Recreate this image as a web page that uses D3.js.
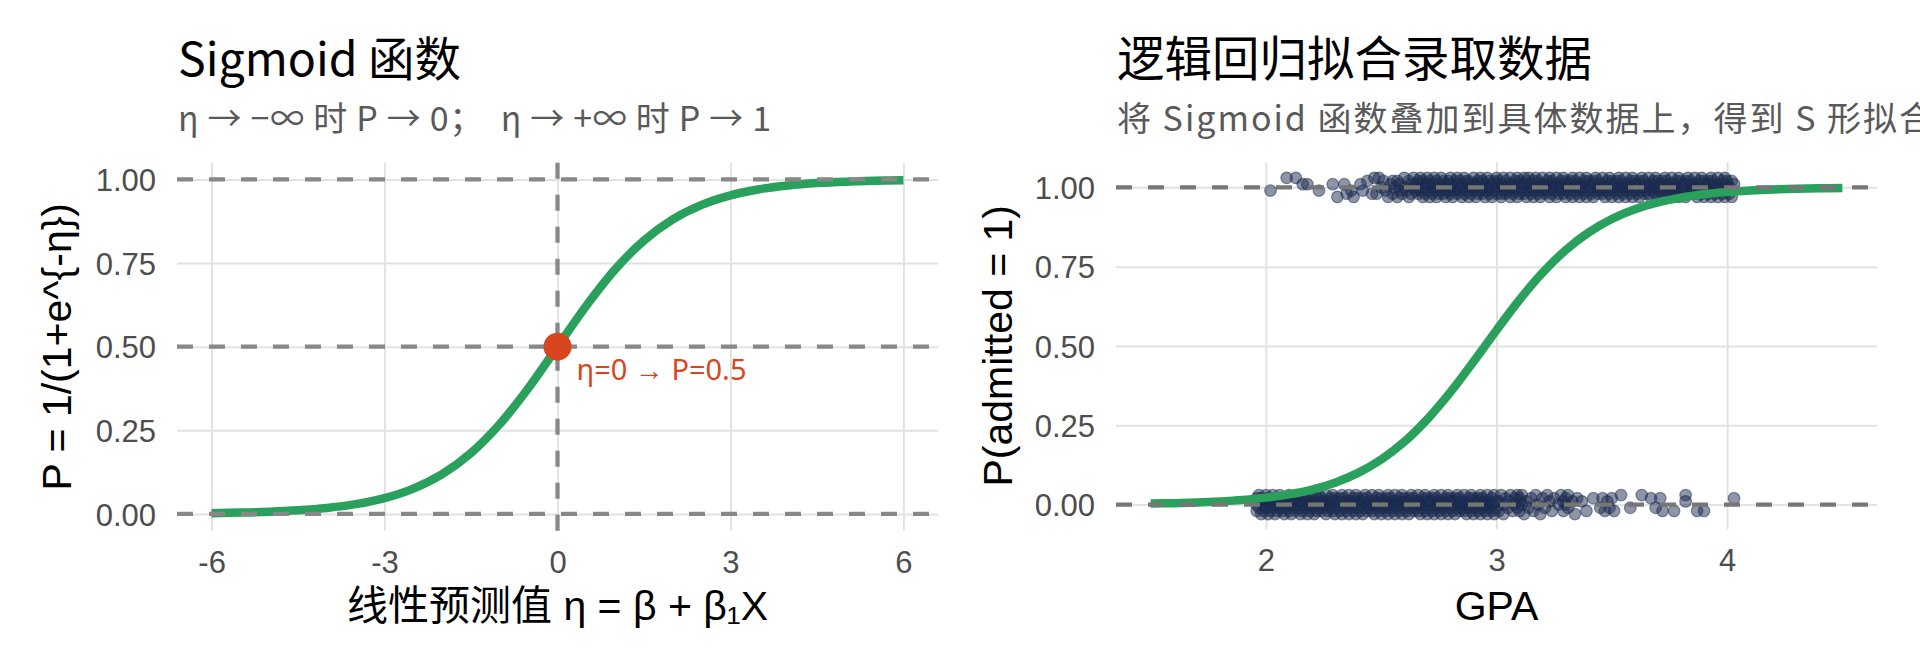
<!DOCTYPE html>
<html>
<head>
<meta charset="utf-8">
<script src="https://cdn.jsdelivr.net/npm/d3@7"></script>
<style>
  body { margin: 0; background: #fff; }
  svg text { font-family: 'Liberation Sans', 'Noto Sans CJK SC', sans-serif; white-space: pre; }
</style>
</head>
<body>
<script>
// ---- chart values ----
const etaTicks = [-6, -3, 0, 3, 6]
const probTicks = [0, 0.25, 0.5, 0.75, 1]
const gpaTicks = [2, 3, 4]
const refProbs = [0, 0.5, 1]      // horizontal dashed lines, left panel
const refEta = [0]                 // vertical dashed line, left panel
const refAdmit = [0, 1]            // horizontal dashed lines, right panel
const midPoint = [[0, 0.5]]

// sigmoid curve: [eta, P]
const sigmoidCurve = [
  [-6, 0.0025], [-5.5, 0.0041], [-5, 0.0067], [-4.5, 0.011], [-4, 0.018], [-3.5, 0.0293],
  [-3, 0.0474], [-2.5, 0.0759], [-2, 0.1192], [-1.5, 0.1824], [-1, 0.2689], [-0.5, 0.3775],
  [0, 0.5], [0.5, 0.6225], [1, 0.7311], [1.5, 0.8176], [2, 0.8808], [2.5, 0.9241],
  [3, 0.9526], [3.5, 0.9707], [4, 0.982], [4.5, 0.989], [5, 0.9933], [5.5, 0.9959], [6, 0.9975]
]

// fitted logistic curve of the right panel: [GPA, P]
const admissionFit = [
  [1.5, 0.003], [1.6, 0.0045], [1.7, 0.0067], [1.8, 0.01], [1.9, 0.0148], [2.0, 0.0219],
  [2.1, 0.0323], [2.2, 0.0474], [2.3, 0.0691], [2.4, 0.0998], [2.5, 0.1419], [2.6, 0.1978],
  [2.7, 0.2689], [2.8, 0.3543], [2.9, 0.4502], [3.0, 0.5498], [3.1, 0.6457], [3.2, 0.7311],
  [3.3, 0.8022], [3.4, 0.8581], [3.5, 0.9002], [3.6, 0.9309], [3.7, 0.9526], [3.8, 0.9677],
  [3.9, 0.9781], [4.0, 0.9852], [4.1, 0.99], [4.2, 0.9933], [4.3, 0.9955], [4.4, 0.997], [4.5, 0.998]
]

// admitted students, [GPA, jittered P]
const admitted = [
  [2.02,.99],[2.09,1.03],[2.13,1.03],[2.16,1.01],[2.18,1.01],[2.23,.99],[2.29,1.01],[2.31,.97],[2.34,1.01],[2.35,.98],
  [2.37,.99],[2.38,.97],[2.41,1.01],[2.42,.99],[2.44,1.02],[2.46,.98],[2.47,1.03],[2.48,.98],[2.49,1.03],[2.5,1],
  [2.51,1.02],[2.52,.99],[2.53,.97],[2.54,1.01],[2.55,1.02],[2.55,.98],[2.56,1],[2.57,.97],[2.57,1.02],[2.58,.99],
  [2.58,1.01],[2.59,.98],[2.6,1.03],[2.6,1],[2.61,.99],[2.62,1.02],[2.62,.97],[2.63,1.01],[2.63,.98],[2.64,1],
  [2.64,1.03],[2.65,.99],[2.65,1.01],
  [2.66,1.02],[2.66,.98],[2.66,1],[2.67,1.03],[2.67,.99],[2.68,1.01],[2.68,.97],[2.68,1.02],[2.69,1],[2.69,.98],[2.7,1.01],[2.7,1.03],[2.7,.99],
  [2.71,.97],[2.71,1.02],[2.72,1],[2.72,1.01],[2.72,.98],[2.73,.99],[2.73,1.03],[2.74,1],[2.74,.97],[2.74,1.02],[2.75,1.01],[2.75,.98],
  [2.76,.99],[2.76,1.03],[2.76,1],[2.77,.98],[2.77,1.02],[2.78,1.01],[2.78,.97],[2.78,1],[2.79,1.02],[2.79,.99],[2.8,1.03],[2.8,.98],[2.8,1.01],
  [2.81,1],[2.81,.97],[2.82,1.02],[2.82,.99],[2.82,1.01],[2.83,.98],[2.83,1.03],[2.84,1],[2.84,.99],[2.84,1.02],[2.85,.97],[2.85,1.01],
  [2.86,1.03],[2.86,.98],[2.86,1],[2.87,1.02],[2.87,.99],[2.88,1.01],[2.88,.97],[2.88,1.02],[2.89,1],[2.89,.98],[2.9,1.03],[2.9,.99],[2.9,1.01],
  [2.91,1],[2.91,.97],[2.92,1.02],[2.92,.98],[2.92,1.01],[2.93,.99],[2.93,1.03],[2.94,1],[2.94,.98],[2.94,1.02],[2.95,.97],[2.95,1.01],
  [2.96,1.03],[2.96,.99],[2.96,1],[2.97,1.02],[2.97,.98],[2.98,1.01],[2.98,.97],[2.98,1],[2.99,1.02],[2.99,.99],[3,1.03],[3,.98],[3,1.01],
  [3.01,1],[3.01,1.02],[3.02,.98],[3.02,.97],[3.02,1.01],[3.03,1.03],[3.03,.99],[3.04,1],[3.04,1.02],[3.04,.98],[3.05,1.01],[3.05,.99],
  [3.06,.97],[3.06,1.03],[3.06,1],[3.07,1.01],[3.07,.98],[3.08,1.02],[3.08,.99],[3.08,1],[3.09,1.03],[3.09,.97],[3.1,1.01],[3.1,.98],[3.1,1.02],
  [3.11,.99],[3.11,1],[3.12,1.03],[3.12,.98],[3.12,1.01],[3.13,.97],[3.13,1.02],[3.14,1],[3.14,.99],[3.14,1.03],[3.15,.98],[3.15,1.01],
  [3.16,1.02],[3.16,.97],[3.16,1],[3.17,.99],[3.17,1.03],[3.18,1.01],[3.18,.98],[3.18,1.02],[3.19,1],[3.19,.97],[3.2,1.01],[3.2,.99],[3.2,1.03],
  [3.21,.98],[3.21,1],[3.22,1.02],[3.22,.99],[3.22,1.01],[3.23,.97],[3.23,1.03],[3.24,1],[3.24,.98],[3.24,1.02],[3.25,1.01],[3.25,.99],
  [3.26,1.03],[3.26,.97],[3.26,1],[3.27,1.01],[3.27,.98],[3.28,1.02],[3.28,.99],[3.28,1],[3.29,1.03],[3.29,.98],[3.3,1.01],[3.3,.97],[3.3,1.02],
  [3.31,1],[3.31,.99],[3.32,1.02],[3.32,.98],[3.32,1.01],[3.33,1.03],[3.33,.97],[3.34,1],[3.34,1.02],[3.34,.99],[3.35,.98],[3.35,1.01],
  [3.36,.97],[3.36,1.03],[3.36,1],[3.37,1.01],[3.37,.99],[3.38,1.02],[3.38,.98],[3.38,1],[3.39,1.03],[3.39,.97],[3.4,1.01],[3.4,.99],[3.4,1.02],
  [3.41,.98],[3.41,1],[3.42,1.02],[3.42,.97],[3.42,1.01],[3.43,.99],[3.43,1.03],[3.44,1],[3.44,.98],[3.44,1.02],[3.45,1.01],[3.45,.99],
  [3.46,1.03],[3.46,.98],[3.46,1],[3.47,1.01],[3.47,.97],[3.48,1.02],[3.48,.99],[3.48,1],[3.49,1.03],[3.49,.98],[3.5,1.01],[3.5,.97],[3.5,1.02],
  [3.51,1],[3.51,.99],[3.52,1.02],[3.52,.98],[3.52,1.01],[3.53,1.03],[3.53,.97],[3.54,1],[3.54,1.02],[3.54,.99],[3.55,.98],[3.55,1.01],
  [3.56,.97],[3.56,1.03],[3.56,1],[3.57,1.01],[3.57,.99],[3.58,1.02],[3.58,.98],[3.58,1],[3.59,1.03],[3.59,.97],[3.6,1.01],[3.6,.99],[3.6,1.02],
  [3.61,.98],[3.61,1],[3.62,1.02],[3.62,.97],[3.62,1.01],[3.63,.99],[3.63,1.03],[3.64,1],[3.64,.98],[3.64,1.02],[3.65,1.01],[3.65,.99],
  [3.66,1.03],[3.66,.98],[3.66,1],[3.67,1.01],[3.67,.97],[3.68,1.02],[3.68,.99],[3.68,1],[3.69,1.03],[3.69,.98],[3.7,1.01],[3.7,.97],[3.7,1.02],
  [3.71,1],[3.71,.99],[3.72,1.02],[3.72,.98],[3.72,1.01],[3.73,1.03],[3.73,.97],[3.74,1],[3.74,1.02],[3.74,.99],[3.75,.98],[3.75,1.01],
  [3.76,.97],[3.76,1.03],[3.76,1],[3.77,1.01],[3.77,.99],[3.78,1.02],[3.78,.98],[3.78,1],[3.79,1.03],[3.79,.97],[3.8,1.01],[3.8,.99],[3.8,1.02],
  [3.81,.98],[3.81,1],[3.82,1.02],[3.82,.97],[3.82,1.01],[3.83,.99],[3.83,1.03],[3.84,1],[3.84,.98],[3.84,1.02],[3.85,1.01],[3.85,.99],
  [3.86,1.03],[3.86,.98],[3.86,1],[3.87,1.01],[3.87,.97],[3.88,1.02],[3.88,.99],[3.88,1],[3.89,1.03],[3.89,.98],[3.9,1.01],[3.9,.97],[3.9,1.02],
  [3.91,1],[3.91,.99],[3.92,1.02],[3.92,.98],[3.92,1.01],[3.93,1.03],[3.93,.97],[3.94,1],[3.94,1.02],[3.94,.99],[3.95,.98],[3.95,1.01],
  [3.96,.97],[3.96,1.03],[3.96,1],[3.97,1.01],[3.97,.99],[3.98,1.02],[3.98,.98],[3.98,1],[3.99,1.03],[3.99,.97],[4,1.01],[4,.99],[4,1.02],
  [4.01,.98],[4.01,1],[4.02,1.02],[4.02,.97],[4.03,1.01]
]

// rejected students, [GPA, jittered P]
const rejected = [
  [1.96,.02],[1.96,-.02],[1.96,0],[1.97,.03],[1.97,-.01],[1.98,.01],[1.98,-.03],[1.98,.02],[1.99,0],[1.99,-.02],[2,.01],[2,.03],[2,-.01],
  [2.01,-.03],[2.01,.02],[2.02,0],[2.02,.01],[2.02,-.02],[2.03,-.01],[2.03,.03],[2.04,0],[2.04,-.03],[2.04,.02],[2.05,.01],[2.05,-.02],
  [2.06,-.01],[2.06,.03],[2.06,0],[2.07,-.02],[2.07,.02],[2.08,.01],[2.08,-.03],[2.08,0],[2.09,.02],[2.09,-.01],[2.1,.03],[2.1,-.02],[2.1,.01],
  [2.11,0],[2.11,-.03],[2.12,.02],[2.12,-.01],[2.12,.01],[2.13,-.02],[2.13,.03],[2.14,0],[2.14,-.01],[2.14,.02],[2.15,-.03],[2.15,.01],
  [2.16,.03],[2.16,-.02],[2.16,0],[2.17,.02],[2.17,-.01],[2.18,.01],[2.18,-.03],[2.18,.02],[2.19,0],[2.19,-.02],[2.2,.03],[2.2,-.01],[2.2,.01],
  [2.21,0],[2.21,-.03],[2.22,.02],[2.22,-.02],[2.22,.01],[2.23,-.01],[2.23,.03],[2.24,0],[2.24,-.02],[2.24,.02],[2.25,.01],[2.25,-.01],
  [2.26,.03],[2.26,-.03],[2.26,0],[2.27,.01],[2.27,-.02],[2.28,.02],[2.28,-.01],[2.28,0],[2.29,.03],[2.29,-.02],[2.3,.01],[2.3,-.03],[2.3,.02],
  [2.31,0],[2.31,-.01],[2.32,.02],[2.32,-.02],[2.32,.01],[2.33,.03],[2.33,-.03],[2.34,0],[2.34,.02],[2.34,-.01],[2.35,-.02],[2.35,.01],
  [2.36,-.03],[2.36,.03],[2.36,0],[2.37,.01],[2.37,-.01],[2.38,.02],[2.38,-.02],[2.38,0],[2.39,.03],[2.39,-.03],[2.4,.01],[2.4,-.01],[2.4,.02],
  [2.41,-.02],[2.41,0],[2.42,.02],[2.42,-.03],[2.42,.01],[2.43,-.01],[2.43,.03],[2.44,0],[2.44,-.02],[2.44,.02],[2.45,.01],[2.45,-.01],
  [2.46,.03],[2.46,-.02],[2.46,0],[2.47,.01],[2.47,-.03],[2.48,.02],[2.48,-.01],[2.48,0],[2.49,.03],[2.49,-.02],[2.5,.01],[2.5,-.03],[2.5,.02],
  [2.51,0],[2.51,-.01],[2.52,.02],[2.52,-.02],[2.52,.01],[2.53,.03],[2.53,-.03],[2.54,0],[2.54,.02],[2.54,-.01],[2.55,-.02],[2.55,.01],
  [2.56,-.03],[2.56,.03],[2.56,0],[2.57,.01],[2.57,-.01],[2.58,.02],[2.58,-.02],[2.58,0],[2.59,.03],[2.59,-.03],[2.6,.01],[2.6,-.01],[2.6,.02],
  [2.61,-.02],[2.61,0],[2.62,.02],[2.62,-.03],[2.62,.01],[2.63,-.01],[2.63,.03],[2.64,0],[2.64,-.02],[2.64,.02],[2.65,.01],[2.65,-.01],
  [2.66,.03],[2.66,-.02],[2.66,0],[2.67,.01],[2.67,-.03],[2.68,.02],[2.68,-.01],[2.68,0],[2.69,.03],[2.69,-.02],[2.7,.01],[2.7,-.03],[2.7,.02],
  [2.71,0],[2.71,-.01],[2.72,.02],[2.72,-.02],[2.72,.01],[2.73,.03],[2.73,-.03],[2.74,0],[2.74,.02],[2.74,-.01],[2.75,-.02],[2.75,.01],
  [2.76,-.03],[2.76,.03],[2.76,0],[2.77,.01],[2.77,-.01],[2.78,.02],[2.78,-.02],[2.78,0],[2.79,.03],[2.79,-.03],[2.8,.01],[2.8,-.01],[2.8,.02],
  [2.81,-.02],[2.81,0],[2.82,.02],[2.82,-.03],[2.82,.01],[2.83,-.01],[2.83,.03],[2.84,0],[2.84,-.02],[2.84,.02],[2.85,.01],[2.85,-.01],
  [2.86,.03],[2.86,-.02],[2.86,0],[2.87,.01],[2.87,-.03],[2.88,.02],[2.88,-.01],[2.88,0],[2.89,.03],[2.89,-.02],[2.9,.01],[2.9,-.03],[2.9,.02],
  [2.91,0],[2.91,-.01],[2.92,.02],[2.92,-.02],[2.92,.01],[2.93,.03],[2.93,-.03],[2.94,0],[2.94,.02],[2.94,-.01],[2.95,-.02],[2.95,.01],
  [2.96,-.03],[2.96,.03],[2.96,0],[2.97,.01],[2.97,-.01],[2.98,.02],[2.98,-.02],[2.98,0],[2.99,.03],[2.99,-.03],[3,.01],[3,-.01],
  [3.01,.01],[3.01,-.02],[3.02,.03],[3.03,0],[3.03,-.03],[3.04,.02],[3.05,-.01],[3.05,.01],[3.06,.03],[3.07,-.02],[3.08,0],[3.08,.02],
  [3.09,-.01],[3.09,.03],[3.1,.01],[3.1,-.02],[3.1,.02],[3.11,0],[3.11,.03],[3.12,-.03],[3.13,.01],[3.14,-.01],[3.15,.02],[3.16,-.02],
  [3.17,.03],[3.18,0],[3.19,-.03],[3.2,.02],[3.21,-.01],[3.22,.03],[3.23,.01],[3.24,-.02],[3.25,.02],[3.27,0],[3.28,.03],[3.29,.01],
  [3.29,-.02],[3.3,.02],[3.3,0],[3.31,.03],[3.31,-.01],[3.33,.01],[3.34,-.03],[3.35,.02],
  [3.37,.01],[3.39,-.02],[3.42,.02],[3.45,-.01],[3.46,.02],[3.47,-.02],[3.48,.01],[3.49,-.01],[3.5,.02],[3.51,-.02],
  [3.54,.03],[3.58,-.01],[3.63,.03],[3.67,.02],[3.69,-.01],[3.71,.02],[3.72,-.02],[3.77,-.02],[3.82,.03],[3.82,.01],
  [3.87,-.02],[3.9,-.02],[4.03,.02]
]

const leftTitle = 'Sigmoid 函数'
const leftSubtitle = 'η → −∞ 时 P → 0；  η → +∞ 时 P → 1'
const leftXTitle = '线性预测值 η = β + β₁X'
const leftYTitle = 'P = 1/(1+e^{-η})'
const midLabel = 'η=0 → P=0.5'
const rightTitle = '逻辑回归拟合录取数据'
const rightSubtitle = '将 Sigmoid 函数叠加到具体数据上，得到 S 形拟合曲线'
const rightXTitle = 'GPA'
const rightYTitle = 'P(admitted = 1)'

// ---- drawing ----
const W = 1920, H = 672
const green = '#29a05b', red = '#d7461f', navy = '#1b2b50'
const gridColor = '#e2e2e2'
const cjk = "'Noto Sans CJK SC', sans-serif"

const svg = d3.select('body').append('svg')
  .attr('width', W)
  .attr('height', H)

// set up one panel: grid, tick labels, titles; returns its scales
function drawPanel(p) {
  const x = d3.scaleLinear().domain(p.xDomain).range([p.left, p.right])
  const y = d3.scaleLinear().domain(p.yDomain).range([p.bottom, p.top])
  const g = svg.append('g')

  // vertical grid + x tick labels (plain hyphen for negatives, like the original)
  const xg = g.append('g')
    .attr('transform', 'translate(0,' + p.bottom + ')')
    .call(d3.axisBottom(x).tickValues(p.xTicks).tickSize(-(p.bottom - p.top)).tickFormat(d => String(d)))
  xg.select('.domain').remove()
  xg.selectAll('line').attr('stroke', gridColor).attr('stroke-width', 2)
  xg.selectAll('text')
    .attr('y', 42).attr('dy', null)
    .style('font-size', '31px').attr('fill', '#4d4d4d')

  // horizontal grid + y tick labels
  const yg = g.append('g')
    .attr('transform', 'translate(' + p.left + ',0)')
    .call(d3.axisLeft(y).tickValues(p.yTicks).tickSize(-(p.right - p.left)).tickPadding(21).tickFormat(d3.format('.2f')))
  yg.select('.domain').remove()
  yg.selectAll('line').attr('stroke', gridColor).attr('stroke-width', 2)
  yg.selectAll('text')
    .attr('dy', '0.36em')
    .style('font-size', '31px').attr('fill', '#4d4d4d')

  // titles
  svg.append('text').attr('x', p.left + 1).attr('y', 76)
    .style('font-family', cjk).style('font-size', p.titleSize).attr('fill', '#000')
    .text(p.title)
  svg.append('text').attr('x', p.left + 1).attr('y', 131)
    .style('font-family', cjk).style('font-size', '34px').style('letter-spacing', p.subSpacing)
    .attr('fill', '#595959')
    .text(p.subtitle)

  // axis titles
  svg.append('text').attr('x', (p.left + p.right) / 2).attr('y', 620)
    .attr('text-anchor', 'middle').style('font-size', '41px').attr('fill', '#000')
    .text(p.xTitle)
  svg.append('text')
    .attr('transform', 'translate(' + p.yTitleX + ',' + (p.top + p.bottom) / 2 + ') rotate(-90)')
    .attr('text-anchor', 'middle').style('font-size', '41px').attr('fill', '#000')
    .text(p.yTitle)

  return { x, y, g }
}

function dashed(g, data, x1, x2, y1, y2, color) {
  g.append('g').selectAll('line').data(data).join('line')
    .attr('x1', x1).attr('x2', x2).attr('y1', y1).attr('y2', y2)
    .attr('stroke', color).attr('stroke-width', 4.3).attr('stroke-dasharray', '16 16')
}

// left panel
const L = drawPanel({
  left: 177, right: 938, top: 162.7, bottom: 530.7,
  xDomain: [-6.6, 6.6], yDomain: [-0.05, 1.05],
  xTicks: etaTicks, yTicks: probTicks,
  title: leftTitle, subtitle: leftSubtitle, titleSize: '46.5px', subSpacing: '0.7px',
  xTitle: leftXTitle, yTitle: leftYTitle, yTitleX: 71
})

L.g.append('path')
  .datum(sigmoidCurve)
  .attr('fill', 'none')
  .attr('stroke', green)
  .attr('stroke-width', 8.5)
  .attr('d', d3.line().curve(d3.curveCatmullRom).x(d => L.x(d[0])).y(d => L.y(d[1])))

dashed(L.g, refProbs, 177, 938, d => L.y(d), d => L.y(d), '#888888')
dashed(L.g, refEta, d => L.x(d), d => L.x(d), 162.7, 530.7, '#888888')

L.g.selectAll('circle.mid').data(midPoint).join('circle')
  .attr('class', 'mid')
  .attr('cx', d => L.x(d[0])).attr('cy', d => L.y(d[1])).attr('r', 14)
  .attr('fill', red)

L.g.append('text')
  .attr('x', L.x(0) + 19).attr('y', 380)
  .style('font-family', "'Noto Sans', sans-serif").style('font-size', '29px')
  .attr('fill', red)
  .text(midLabel)

// right panel
const R = drawPanel({
  left: 1116, right: 1877, top: 162.3, bottom: 529.3,
  xDomain: [1.35, 4.65], yDomain: [-0.078, 1.079],
  xTicks: gpaTicks, yTicks: probTicks,
  title: rightTitle, subtitle: rightSubtitle, titleSize: '47.5px', subSpacing: '2px',
  xTitle: rightXTitle, yTitle: rightYTitle, yTitleX: 1012
})

R.g.append('g').selectAll('circle')
  .data(rejected.concat(admitted))
  .join('circle')
  .attr('cx', d => R.x(d[0])).attr('cy', d => R.y(d[1])).attr('r', 5.8)
  .attr('fill', navy).attr('fill-opacity', 0.5)
  .attr('stroke', navy).attr('stroke-opacity', 0.5).attr('stroke-width', 1.2)

R.g.append('path')
  .datum(admissionFit)
  .attr('fill', 'none')
  .attr('stroke', green)
  .attr('stroke-width', 8.5)
  .attr('d', d3.line().curve(d3.curveCatmullRom).x(d => R.x(d[0])).y(d => R.y(d[1])))

dashed(R.g, refAdmit, 1116, 1877, d => R.y(d), d => R.y(d), '#767676')
</script>
</body>
</html>
